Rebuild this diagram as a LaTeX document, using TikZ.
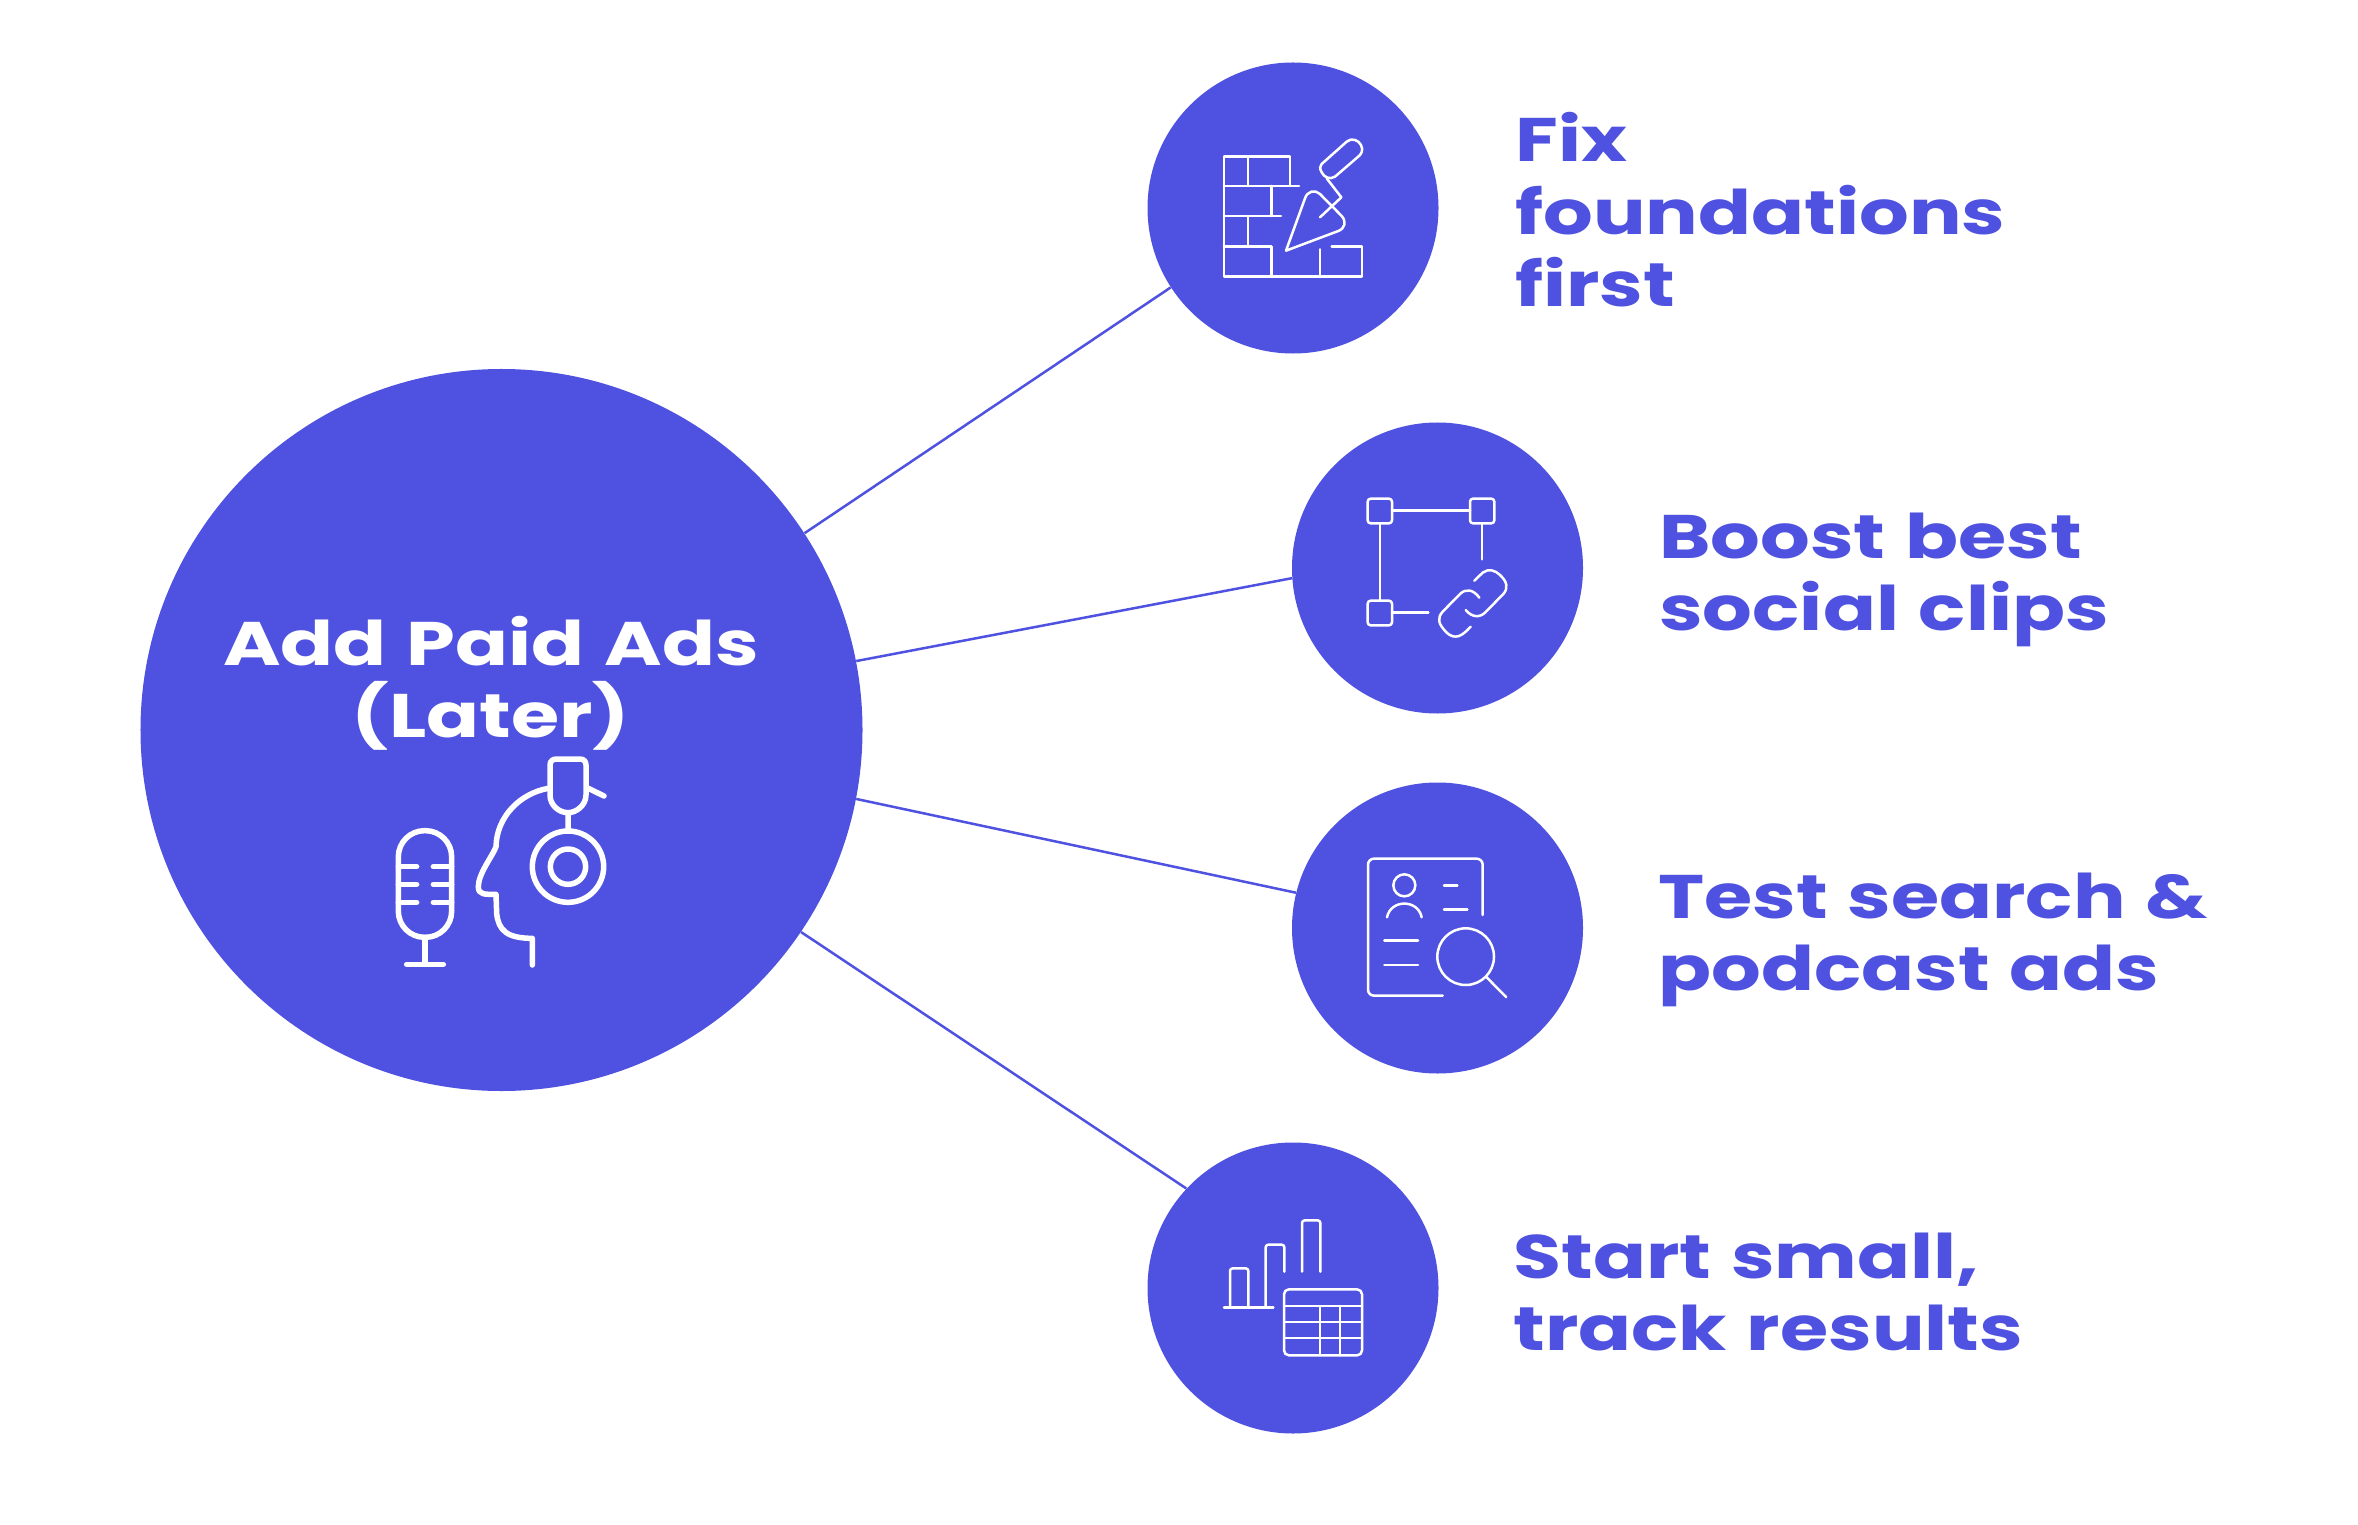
\documentclass[tikz,border=0pt]{standalone}
\usepackage{fontspec}
\newfontfamily\labelfont[FakeStretch=1.27, WordSpace=1.2]{Poppins}
\definecolor{adblue}{HTML}{4F52E0}

\begin{document}
\begin{tikzpicture}[x=0.2mm, y=-0.2mm,
	bigdot/.style={circle, fill=adblue, inner sep=0pt, minimum size=144.4mm},
	dot/.style={circle, fill=adblue, inner sep=0pt, minimum size=58.2mm},
	spoke/.style={adblue, line width=0.5mm},
	tag/.style={anchor=west, align=left, inner sep=0pt, text=adblue, font=\labelfont\bfseries\fontsize{35}{41.2}\selectfont},
	hubtag/.style={align=center, inner sep=0pt, text=white, font=\labelfont\bfseries\fontsize{35}{41.2}\selectfont},
	glyph/.style={white, line width=0.5mm, line cap=round, line join=round},
	headglyph/.style={white, line width=1.1mm, line cap=round, line join=round},
	crop/.style={x=0.0666667mm, y=-0.0666667mm}]
	\useasboundingbox (0,0) rectangle (2358,1525);
	
	\node[bigdot] (hub) at (501.5,730) {};
	\node[dot] (fix) at (1293,208) {};
	\node[dot] (boost) at (1437.5,568) {};
	\node[dot] (test) at (1437.5,928) {};
	\node[dot] (start) at (1293,1288) {};
	
	\draw[spoke] (hub.33) -- (fix.213.5);
	\draw[spoke] (hub.11.9) -- (boost.184.7);
	\draw[spoke] (hub.-11.4) -- (test.166.2);
	\draw[spoke] (hub.-34) -- (start.137.5);
	
	\node[hubtag] (hubtext) at (491,683) {Add Paid Ads\\(Later)};
	\node[tag] (fixtext) at (1515,210) {Fix\\foundations\\first};
	\node[tag] (boosttext) at (1659,580) {Boost best\\social clips};
	\node[tag] (testtext) at (1658,940) {Test search \&\\podcast ads};
	\node[tag] (starttext) at (1513,1292) {Start small,\\track results};
	
	% microphone and head
	\begin{scope}[shift={(360,740)}, crop, headglyph]
		\draw[rounded corners=14.9pt] (115,272) rectangle (275,592);
		\foreach \y in {380,433,487} {
			\draw (115,\y) -- (170,\y) (220,\y) -- (275,\y);
		}
		\draw (195,592) -- (195,673) (140,673) -- (250,673);
		\draw (565,145) .. controls (480,160) and (410,230) .. (408,320) .. controls (400,345) and (355,400) .. (355,440) .. controls (355,465) and (375,463) .. (408,463) -- (410,520) .. controls (415,570) and (440,595) .. (517,595) -- (517,675);
		\draw (570,75) .. controls (570,62) and (580,57) .. (590,57) -- (660,57) .. controls (672,57) and (678,65) .. (678,75) -- (678,165) .. controls (678,195) and (650,218) .. (624,218) .. controls (596,218) and (570,195) .. (570,165) -- cycle;
		\draw (624,218) -- (624,272) (685,145) -- (732,168);
		\draw (624,380) circle (107) (624,380) circle (53);
	\end{scope}
	
	% wall and trowel
	\begin{scope}[shift={(1150,60)}, crop, glyph]
		\draw (420,378) -- (420,289) -- (222,289) -- (222,650) -- (636,650) -- (636,560) -- (545,560);
		\draw (222,378) -- (447,378) (222,468) -- (393,468) (222,560) -- (365,560) -- (365,650);
		\draw (294,289) -- (294,378) (365,378) -- (365,468) (294,468) -- (294,560) (510,568) -- (510,650);
		\draw (408,572) -- (465,415) .. controls (472,393) and (495,388) .. (510,402) -- (575,468) .. controls (590,485) and (585,505) .. (565,513) -- cycle;
		\draw (510,472) -- (574,412) -- (530,355);
		\draw (515,312) -- (590,245) .. controls (605,232) and (625,240) .. (633,255) .. controls (640,270) and (635,280) .. (628,287) -- (555,350) .. controls (540,360) and (522,352) .. (515,337) .. controls (508,325) and (510,318) .. (515,312) -- cycle;
	\end{scope}
	
	% square and chain
	\begin{scope}[shift={(1300,420)}, crop, glyph]
		\draw[rounded corners=1.7pt] (203,236) rectangle (276,310);
		\draw[rounded corners=1.7pt] (510,236) rectangle (583,310);
		\draw[rounded corners=1.7pt] (203,542) rectangle (276,616);
		\draw (276,272) -- (510,272) (240,310) -- (240,542) (546,310) -- (546,418) (276,578) -- (385,578);
		\draw (523,482) -- (548,458) .. controls (565,445) and (585,450) .. (600,465) .. controls (622,485) and (625,505) .. (610,522) -- (558,575) .. controls (540,595) and (515,592) .. (497,570);
		\draw (538,533) .. controls (520,508) and (497,505) .. (480,522) -- (428,575) .. controls (410,595) and (415,612) .. (440,638) .. controls (465,660) and (485,650) .. (512,620);
	\end{scope}
	
	% document and lens
	\begin{scope}[shift={(1300,790)}, crop, glyph]
		\draw[rounded corners=3.4pt] (548,375) -- (548,206) -- (204,206) -- (204,617) -- (428,617);
		\draw (313,286) circle (33);
		\draw (261,382) .. controls (272,327) and (354,327) .. (365,382);
		\draw (432,287) -- (472,287) (432,358) -- (502,358) (253,451) -- (354,451) (253,525) -- (354,525);
		\draw (497,500) circle (85) (560,562) -- (619,622);
	\end{scope}
	
	% bars and table
	\begin{scope}[shift={(1150,1150)}, crop, glyph]
		\draw[rounded corners=1.5pt] (240,468) -- (240,355) -- (295,355) -- (295,468);
		\draw[rounded corners=1.5pt] (347,468) -- (347,284) -- (403,284) -- (403,365);
		\draw[rounded corners=1.5pt] (456,365) -- (456,211) -- (511,211) -- (511,365);
		\draw (222,472) -- (370,472);
		\draw[rounded corners=2.8pt] (402,418) rectangle (636,616);
		\foreach \y in {468,516,564} {
			\draw (402,\y) -- (636,\y);
		}
		\foreach \x in {510,570} {
			\draw (\x,468) -- (\x,616);
		}
	\end{scope}
\end{tikzpicture}
\end{document}
